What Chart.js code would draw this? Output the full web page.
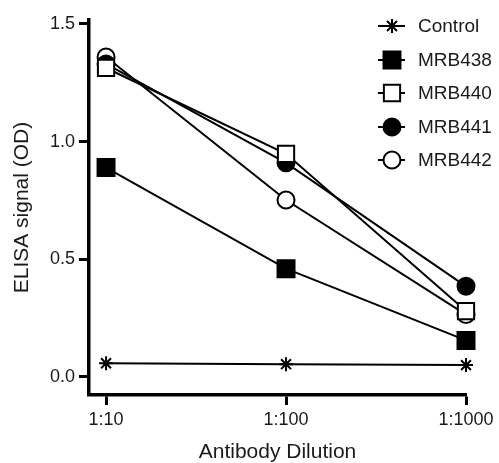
<!DOCTYPE html>
<html>
<head>
<meta charset="utf-8">
<script src="https://cdn.jsdelivr.net/npm/chart.js@4.4.1/dist/chart.umd.min.js"></script>
<style>
  html, body { margin: 0; padding: 0; background: #fff; }
  #wrap { width: 499px; height: 463px; position: relative; }
</style>
</head>
<body>
<div id="wrap"><canvas id="chart"></canvas></div>
<script>
// dilution factors on the x axis and their labels
const dilutions = [10, 100, 1000];
const dilutionLabels = ['1:10', '1:100', '1:1000'];
const yTicks = [0, 0.5, 1.0, 1.5];

// ELISA OD readings per antibody
const control = [0.058, 0.054, 0.050];
const mrb438 = [0.89, 0.46, 0.155];
const mrb440 = [1.313, 0.948, 0.28];
const mrb441 = [1.33, 0.91, 0.385];
const mrb442 = [1.36, 0.752, 0.265];

const FONT = '"Liberation Sans", Arial, Helvetica, sans-serif';
const INK = '#1a1a1a';

function toPoints(vals) {
    return vals.map((v, i) => ({ x: dilutions[i], y: v }));
}

// marker styles, shared by plot and legend
const series = [
    { label: 'Control', data: control, style: 'star', radius: 7, fill: '#000' },
    { label: 'MRB438', data: mrb438, style: 'rect', radius: 12, fill: '#000' },
    { label: 'MRB440', data: mrb440, style: 'rect', radius: 11.5, fill: '#fff' },
    { label: 'MRB441', data: mrb441, style: 'circle', radius: 8.5, fill: '#000' },
    { label: 'MRB442', data: mrb442, style: 'circle', radius: 8.5, fill: '#fff' }
];

const datasets = series.map(s => ({
    label: s.label,
    data: toPoints(s.data),
    borderColor: '#000',
    borderWidth: 2,
    pointStyle: s.style,
    pointRadius: s.radius,
    pointHoverRadius: s.radius,
    pointBackgroundColor: s.fill,
    pointBorderColor: '#000',
    pointBorderWidth: 2,
    tension: 0,
    fill: false,
    clip: false
}));

// legend drawn by hand: line through marker, then label
const sideLegend = {
    id: 'sideLegend',
    afterDraw(chart) {
        const ctx = chart.ctx;
        const rows = [26, 60, 93, 127, 160];
        const cx = 392;
        ctx.save();
        series.forEach((s, i) => {
            const y = rows[i];
            ctx.strokeStyle = '#000';
            ctx.lineWidth = 2;
            ctx.beginPath();
            ctx.moveTo(378, y);
            ctx.lineTo(405, y);
            ctx.stroke();
            ctx.fillStyle = s.fill;
            ctx.lineWidth = 2;
            if (s.style === 'rect') {
                const h = s.radius * Math.SQRT1_2;
                ctx.beginPath();
                ctx.rect(cx - h, y - h, 2 * h, 2 * h);
                ctx.fill();
                ctx.stroke();
            } else if (s.style === 'circle') {
                ctx.beginPath();
                ctx.arc(cx, y, s.radius, 0, Math.PI * 2);
                ctx.fill();
                ctx.stroke();
            } else {
                ctx.beginPath();
                for (let k = 0; k < 4; k++) {
                    const a = k * Math.PI / 4;
                    ctx.moveTo(cx - Math.cos(a) * s.radius, y - Math.sin(a) * s.radius);
                    ctx.lineTo(cx + Math.cos(a) * s.radius, y + Math.sin(a) * s.radius);
                }
                ctx.stroke();
            }
            ctx.fillStyle = INK;
            ctx.font = '19px ' + FONT;
            ctx.textAlign = 'left';
            ctx.textBaseline = 'middle';
            ctx.fillText(s.label, 418, y + 1);
        });
        ctx.restore();
    }
};

new Chart(document.getElementById('chart'), {
    type: 'line',
    data: { datasets: datasets },
    options: {
        responsive: true,
        maintainAspectRatio: false,
        animation: false,
        events: [],
        layout: { padding: { top: 20, right: 33, bottom: 0, left: 0 } },
        plugins: {
            legend: { display: false },
            tooltip: { enabled: false }
        },
        scales: {
            x: {
                type: 'logarithmic',
                min: 8.04,
                max: 1000,
                afterBuildTicks: scale => {
                    scale.ticks = dilutions.map(v => ({ value: v }));
                },
                afterFit: scale => { scale.height = 68; },
                border: { display: true, color: '#000', width: 3.5 },
                grid: {
                    drawOnChartArea: false,
                    drawTicks: true,
                    tickLength: 10,
                    tickWidth: 3,
                    tickColor: '#000'
                },
                ticks: {
                    autoSkip: false,
                    maxRotation: 0,
                    padding: 4,
                    color: INK,
                    font: { family: FONT, size: 18 },
                    callback: function(value) {
                        const i = dilutions.indexOf(value);
                        return i >= 0 ? dilutionLabels[i] : '';
                    }
                },
                title: {
                    display: true,
                    text: 'Antibody Dilution',
                    color: INK,
                    font: { family: FONT, size: 21, lineHeight: 1.0 },
                    padding: { top: 0, bottom: 0 }
                }
            },
            y: {
                min: -0.077,
                max: 1.517,
                afterBuildTicks: scale => {
                    scale.ticks = yTicks.map(v => ({ value: v }));
                },
                afterFit: scale => { scale.width = 89; },
                border: { display: true, color: '#000', width: 3.5 },
                grid: {
                    drawOnChartArea: false,
                    drawTicks: true,
                    tickLength: 10,
                    tickWidth: 3,
                    tickColor: '#000'
                },
                ticks: {
                    padding: 4,
                    color: INK,
                    font: { family: FONT, size: 18 },
                    callback: value => value.toFixed(1)
                },
                title: {
                    display: true,
                    text: 'ELISA signal (OD)',
                    color: INK,
                    font: { family: FONT, size: 21, lineHeight: 1.0 },
                    padding: { top: 12, bottom: 0 }
                }
            }
        }
    },
    plugins: [sideLegend]
});
</script>
</body>
</html>
